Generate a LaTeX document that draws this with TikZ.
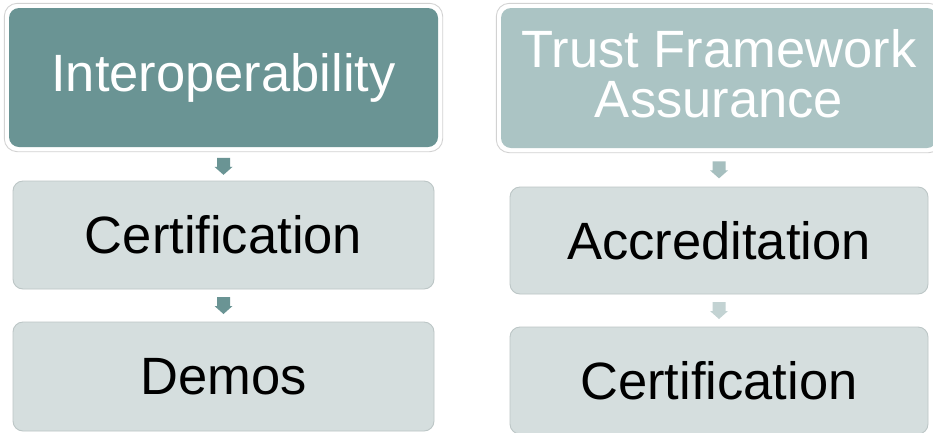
\documentclass[tikz,border=0pt]{standalone}
\usepackage{fontspec}
\setmainfont{Liberation Sans}
\usetikzlibrary{calc,fit}
\definecolor{darkteal}{HTML}{6A9494}
\definecolor{lightteal}{HTML}{ABC4C4}
\definecolor{boxfill}{HTML}{D5DEDE}
\definecolor{boxline}{HTML}{BCC6C6}
\definecolor{frameline}{HTML}{D2D2D2}
\definecolor{arrowA}{HTML}{6A9494}
\definecolor{arrowB}{HTML}{A6BFBF}
\definecolor{arrowC}{HTML}{C3D3D3}
\tikzset{
  bigtext/.style={font=\fontsize{52.5}{50}\selectfont},
  topbox/.style={rectangle, rounded corners=10pt, inner sep=0pt, text=white, bigtext, align=center},
  lowbox/.style={rectangle, rounded corners=10pt, inner sep=0pt, fill=boxfill, draw=boxline, line width=0.9pt, text=black, bigtext},
  frame/.style={draw=frameline, line width=0.9pt, rounded corners=13pt, inner sep=4.5pt},
  blockarrow/.pic={\fill (-6.5,-8.5) -- (6.5,-8.5) -- (6.5,0.5) -- (9,0.5) -- (0,8.5) -- (-9,0.5) -- (-6.5,0.5) -- cycle;}
}
\begin{document}
\begin{tikzpicture}[x=1pt,y=-1pt]
\clip (0,0) rectangle (933,432);
\fill[white] (0,0) rectangle (933,432);
% left column
\node[topbox, fill=darkteal, minimum width=429pt, minimum height=139pt] (interop) at (223.5,77.5) {Interoperability};
\node[frame, fit=(interop)] (interopframe) {};
\node[lowbox, minimum width=421pt, minimum height=108pt] (certL) at (223.5,235) {Certification};
\node[lowbox, minimum width=421pt, minimum height=109pt] (demos) at (223.5,376.5) {Demos};
\coordinate (m1) at ($(interopframe.south)!0.5!(certL.north)$);
\coordinate (m2) at ($(certL.south)!0.5!(demos.north)$);
\pic[fill=arrowA] at (m1) {blockarrow};
\pic[fill=arrowA] at (m2) {blockarrow};
% right column
\node[topbox, fill=lightteal, minimum width=436pt, minimum height=140pt] (trust) at (719,78) {};
\node[frame, fit=(trust)] (trustframe) {};
\node[text=white, bigtext, align=center, inner sep=0pt] (trusttext) at (719,74) {Trust Framework\\Assurance};
\node[lowbox, minimum width=418pt, minimum height=107pt] (accred) at (719,240.5) {Accreditation};
\node[lowbox, minimum width=418pt, minimum height=107pt] (certR) at (719,380.5) {Certification};
\coordinate (m3) at ($(trustframe.south)!0.5!(accred.north)$);
\coordinate (m4) at ($(accred.south)!0.5!(certR.north)$);
\pic[fill=arrowB] at (m3) {blockarrow};
\pic[fill=arrowC] at (m4) {blockarrow};
\end{tikzpicture}
\end{document}
